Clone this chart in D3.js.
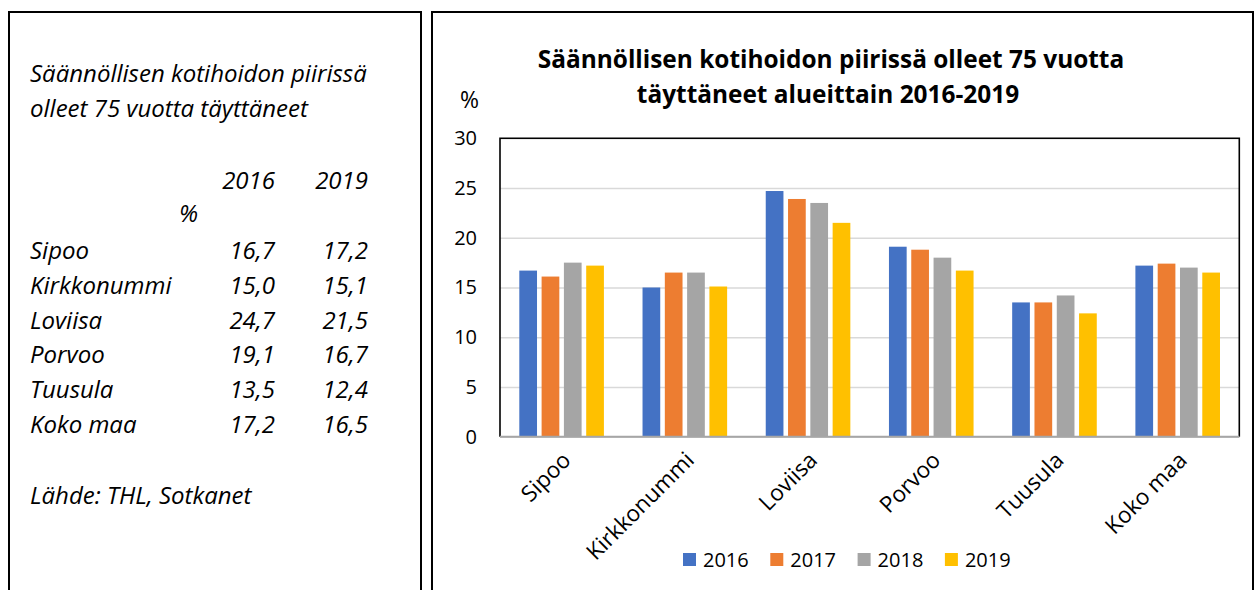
<!DOCTYPE html>
<html><head><meta charset="utf-8">
<script src="https://cdn.jsdelivr.net/npm/d3@7"></script>
<style>body{margin:0;background:#fff}svg{display:block}</style>
</head><body>
<svg id="c" width="1255" height="590"></svg>
<script>
const categories = ["Sipoo","Kirkkonummi","Loviisa","Porvoo","Tuusula","Koko maa"];
const years = ["2016","2017","2018","2019"];
const v2016 = [16.7,15.0,24.7,19.1,13.5,17.2];
const v2017 = [16.1,16.5,23.9,18.8,13.5,17.4];
const v2018 = [17.5,16.5,23.5,18.0,14.2,17.0];
const v2019 = [17.2,15.1,21.5,16.7,12.4,16.5];
const yTicks = [0,5,10,15,20,25,30];
const colors = ["#4472C4","#ED7D31","#A5A5A5","#FFC000"];
const tableYears = ["2016","2019"];
const table2016 = ["16,7","15,0","24,7","19,1","13,5","17,2"];
const table2019 = ["17,2","15,1","21,5","16,7","12,4","16,5"];
const seriesVals = [v2016,v2017,v2018,v2019];

const svg = d3.select("#c");
const FONT = "'Open Sans', Lato, sans-serif";

function fitSize(node, base, target){
  return base * target / node.getComputedTextLength();
}

// panels
svg.append("rect").attr("x",9).attr("y",12).attr("width",412).attr("height",600)
  .attr("fill","none").attr("stroke","#000").attr("stroke-width",2);
svg.append("rect").attr("x",432).attr("y",12).attr("width",821).attr("height",600)
  .attr("fill","none").attr("stroke","#000").attr("stroke-width",2);

// left text panel
const lp = svg.append("g").attr("font-family",FONT).attr("font-style","italic").attr("fill","#000").attr("font-size",20);
const l1 = lp.append("text").attr("x",30).attr("y",82).text("Säännöllisen kotihoidon piirissä");
lp.attr("font-size",fitSize(l1.node(),20,337));
lp.append("text").attr("x",30).attr("y",117).text("olleet 75 vuotta täyttäneet");
lp.append("text").attr("x",275).attr("y",189).attr("text-anchor","end").text(tableYears[0]);
lp.append("text").attr("x",368).attr("y",189).attr("text-anchor","end").text(tableYears[1]);
lp.append("text").attr("x",198).attr("y",222).attr("text-anchor","end").text("%");
categories.forEach((c,i)=>{
  const yy = 259 + i*34.8;
  lp.append("text").attr("x",30).attr("y",yy).text(c);
  lp.append("text").attr("x",275).attr("y",yy).attr("text-anchor","end").text(table2016[i]);
  lp.append("text").attr("x",368).attr("y",yy).attr("text-anchor","end").text(table2019[i]);
});
lp.append("text").attr("x",30).attr("y",504).text("Lähde: THL, Sotkanet");

// chart
const L=500, R=1239.3, T=138.3, B=436.7;
const x0 = d3.scaleBand().domain(categories).range([L,R]).padding(0);
const x1 = d3.scaleBand().domain(years).range([0,x0.bandwidth()]).paddingInner(0.206).paddingOuter(0.866);
const y = d3.scaleLinear().domain([0,30]).range([B,T]);

// gridlines
svg.append("g").attr("transform",`translate(${L},0)`)
  .call(d3.axisLeft(y).tickValues(yTicks).tickSize(-(R-L)).tickFormat(""))
  .call(g=>g.select(".domain").remove())
  .call(g=>g.selectAll("line").attr("stroke","#D9D9D9").attr("stroke-width",1.5));

// bars
const groups = svg.append("g").selectAll("g").data(categories).join("g")
  .attr("transform",d=>`translate(${x0(d)},0)`);
groups.selectAll("rect").data((d,i)=>years.map((yr,j)=>({yr,v:seriesVals[j][i],j})))
  .join("rect")
  .attr("x",d=>x1(d.yr)).attr("width",x1.bandwidth())
  .attr("y",d=>y(d.v)).attr("height",d=>B-y(d.v))
  .attr("fill",d=>colors[d.j]);

// plot border
svg.append("path").attr("d",`M${L},${B}V${T}H${R}V${B}`).attr("fill","none").attr("stroke","#000").attr("stroke-width",1.6);
svg.append("line").attr("x1",L).attr("x2",R).attr("y1",B).attr("y2",B).attr("stroke","#A6A6A6").attr("stroke-width",2);

// y axis labels
svg.append("g").attr("transform",`translate(477,0)`)
  .call(d3.axisLeft(y).tickValues(yTicks).tickSize(0).tickPadding(0))
  .call(g=>g.select(".domain").remove())
  .call(g=>g.selectAll("text").attr("font-family",FONT).attr("font-size",20).attr("fill","#000"));

// x axis labels
const xl = svg.append("g").attr("font-family",FONT).attr("fill","#000").attr("font-size",18);
const xt = xl.selectAll("text").data(categories).join("text")
  .attr("transform",d=>`translate(${x0(d)+x0.bandwidth()/2+5},${456}) rotate(-45)`)
  .attr("text-anchor","end").attr("dy","0.35em")
  .text(d=>d);
xl.attr("font-size",fitSize(xt.filter(d=>d==="Kirkkonummi").node(),18,141));

// % label
svg.append("text").attr("x",479).attr("y",108).attr("text-anchor","end")
  .attr("font-family",FONT).attr("font-size",23).text("%");

// title
const tg = svg.append("g").attr("font-family",FONT).attr("font-weight","bold").attr("text-anchor","middle").attr("font-size",22);
const t1 = tg.append("text").attr("x",831).attr("y",68).text("Säännöllisen kotihoidon piirissä olleet 75 vuotta");
tg.attr("font-size",fitSize(t1.node(),22,587));
tg.append("text").attr("x",828).attr("y",103).text("täyttäneet alueittain 2016-2019");

// legend
const lg = svg.append("g").attr("font-family",FONT).attr("font-size",20);
years.forEach((yr,j)=>{
  const lx = 683 + j*87.3;
  lg.append("rect").attr("x",lx).attr("y",553).attr("width",13).attr("height",13).attr("fill",colors[j]);
  lg.append("text").attr("x",lx+20).attr("y",567).text(yr);
});
</script>
</body></html>
